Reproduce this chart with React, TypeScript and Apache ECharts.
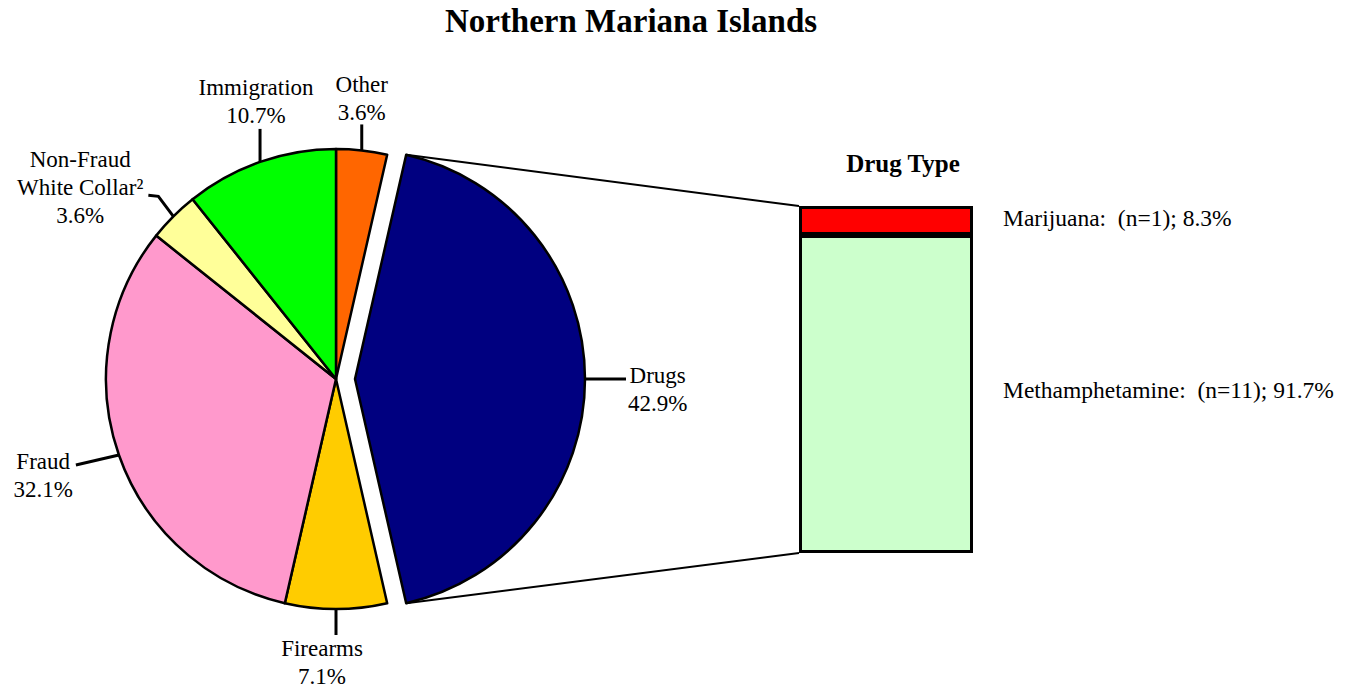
import React, { useEffect, useRef } from "react";
import * as echarts from "echarts";

// ---- Data ----
const categories = ["Other", "Drugs", "Firearms", "Fraud", "Non-Fraud\nWhite Collar²", "Immigration"];
const caseCounts = [1, 12, 2, 9, 1, 3];
const drugTypes = ["Methamphetamine", "Marijuana"];
const drugCounts = [11, 1];
const explodedIndex = 1;

// ---- Styles / layout ----
const sliceColors = ["#FF6600", "#000080", "#FFCC00", "#FF99CC", "#FFFF99", "#00FF00"];
const drugColors = ["#CCFFCC", "#FF0000"];
const FONT = '"Liberation Serif", "Times New Roman", serif';
const PIE_CX = 336;
const PIE_CY = 379;
const PIE_R = 230;
const EXPLODE = 19;
const BAR = { left: 799, top: 206, width: 174, height: 347 };

// label placement relative to the slice's edge midpoint
const labelSpecs = [
  { pts: [[0, -26]], dx: 0, dy: 2, h: "center", v: "bottom" },
  { pts: [[41, 0]], dx: 2, dy: 10, h: "left", v: "middle" },
  { pts: [[0, 26]], dx: -14, dy: -1, h: "center", v: "top" },
  { pts: [[-43, 10]], dx: -3, dy: -17, h: "right", v: "top" },
  { pts: [[-15, -20], [-25, -21]], dx: -5, dy: -50, h: "right", v: "top" },
  { pts: [[0, -33]], dx: -4, dy: 1, h: "center", v: "bottom" },
];

const total = caseCounts.reduce((a, b) => a + b, 0);
const drugTotal = drugCounts.reduce((a, b) => a + b, 0);
const cumBefore = caseCounts.map((_, i) => caseCounts.slice(0, i).reduce((a, b) => a + b, 0));
const angleOf = (v: number) => (v / total) * Math.PI * 2;
const midAngle = (i: number) => angleOf(cumBefore[i] + caseCounts[i] / 2);
const explodeMid = midAngle(explodedIndex);
const centerB = [PIE_CX + EXPLODE * Math.sin(explodeMid), PIE_CY - EXPLODE * Math.cos(explodeMid)];
const centerFor = (seriesIndex: number) => (seriesIndex === 1 ? centerB : [PIE_CX, PIE_CY]);
const pointAt = (c: number[], a: number) => [c[0] + PIE_R * Math.sin(a), c[1] - PIE_R * Math.cos(a)];

export default function App() {
  const ref = useRef<HTMLDivElement>(null);
  useEffect(() => {
    document.body.style.margin = "0";
    if (!ref.current) return;
    const chart = echarts.init(ref.current, undefined, { renderer: "svg" });

    const makeData = (visible: (i: number) => boolean) =>
      categories.map((name, i) => {
        const vis = visible(i);
        return {
          name,
          value: caseCounts[i],
          itemStyle: vis
            ? { color: sliceColors[i], borderColor: "#000", borderWidth: 2.5 }
            : { color: "rgba(0,0,0,0)", borderWidth: 0 },
          label: { show: vis },
          labelLine: { show: vis },
        };
      });

    const labelLayout = (p: any) => {
      const i = p.dataIndex;
      const spec = labelSpecs[i];
      const c = centerFor(p.seriesIndex);
      const [ax, ay] = pointAt(c, midAngle(i));
      const pts = [[ax, ay], ...spec.pts.map(([dx, dy]) => [ax + dx, ay + dy])];
      while (pts.length < 3) pts.push(pts[pts.length - 1].slice());
      const last = pts[pts.length - 1];
      const w = p.labelRect.width;
      let x = last[0] + spec.dx;
      const y = last[1] + spec.dy;
      if (spec.h === "left") x += w / 2;
      else if (spec.h === "right") x -= w / 2;
      return { x, y, align: "center", verticalAlign: spec.v, labelLinePoints: pts };
    };

    const pieBase = {
      type: "pie",
      radius: PIE_R,
      startAngle: 90,
      clockwise: true,
      avoidLabelOverlap: false,
      silent: true,
      emphasis: { disabled: true },
      label: {
        position: "outside",
        color: "#000",
        fontFamily: FONT,
        fontSize: 23,
        lineHeight: 28,
        formatter: (p: any) => `${p.name}\n${((p.value / total) * 100).toFixed(1)}%`,
      },
      labelLine: { lineStyle: { color: "#000", width: 3 }, smooth: false },
      labelLayout,
    };

    const startA = angleOf(cumBefore[explodedIndex]);
    const endA = angleOf(cumBefore[explodedIndex] + caseCounts[explodedIndex]);
    const pTop = pointAt(centerB, startA);
    const pBot = pointAt(centerB, endA);

    chart.setOption({
      animation: false,
      backgroundColor: "#fff",
      title: [
        {
          text: "Northern Mariana Islands",
          left: 631,
          top: 4,
          padding: 0,
          textAlign: "center",
          textStyle: { fontFamily: FONT, fontSize: 33, fontWeight: "bold", color: "#000" },
        },
        {
          text: "Drug Type",
          left: 903,
          top: 151,
          padding: 0,
          textAlign: "center",
          textStyle: { fontFamily: FONT, fontSize: 25, fontWeight: "bold", color: "#000" },
        },
      ],
      grid: { left: BAR.left, top: BAR.top, width: BAR.width, height: BAR.height },
      xAxis: { type: "category", data: ["Drugs"], show: false },
      yAxis: { type: "value", min: 0, max: drugTotal, show: false },
      series: [
        { ...pieBase, center: [PIE_CX, PIE_CY], data: makeData((i) => i !== explodedIndex) },
        { ...pieBase, center: centerB, data: makeData((i) => i === explodedIndex) },
        ...drugTypes.map((name, k) => ({
          type: "bar",
          name,
          stack: "drug",
          barWidth: "100%",
          silent: true,
          data: [drugCounts[k]],
          itemStyle: { color: drugColors[k], borderColor: "#000", borderWidth: 3 },
          label: {
            show: true,
            position: "right",
            distance: 30,
            offset: [0, k === 0 ? -4 : -2],
            color: "#000",
            fontFamily: FONT,
            fontSize: 23.5,
            formatter: (p: any) =>
              `${p.seriesName}:  (n=${p.value}); ${((p.value / drugTotal) * 100).toFixed(1)}%`,
          },
        })),
      ],
      graphic: [
        {
          type: "line",
          shape: { x1: pTop[0], y1: pTop[1], x2: BAR.left, y2: BAR.top },
          style: { stroke: "#000", lineWidth: 2 },
          silent: true,
        },
        {
          type: "line",
          shape: { x1: pBot[0], y1: pBot[1], x2: BAR.left, y2: BAR.top + BAR.height },
          style: { stroke: "#000", lineWidth: 2 },
          silent: true,
        },
      ],
    });
    return () => chart.dispose();
  }, []);
  return <div ref={ref} style={{ width: 1357, height: 691 }} />;
}
